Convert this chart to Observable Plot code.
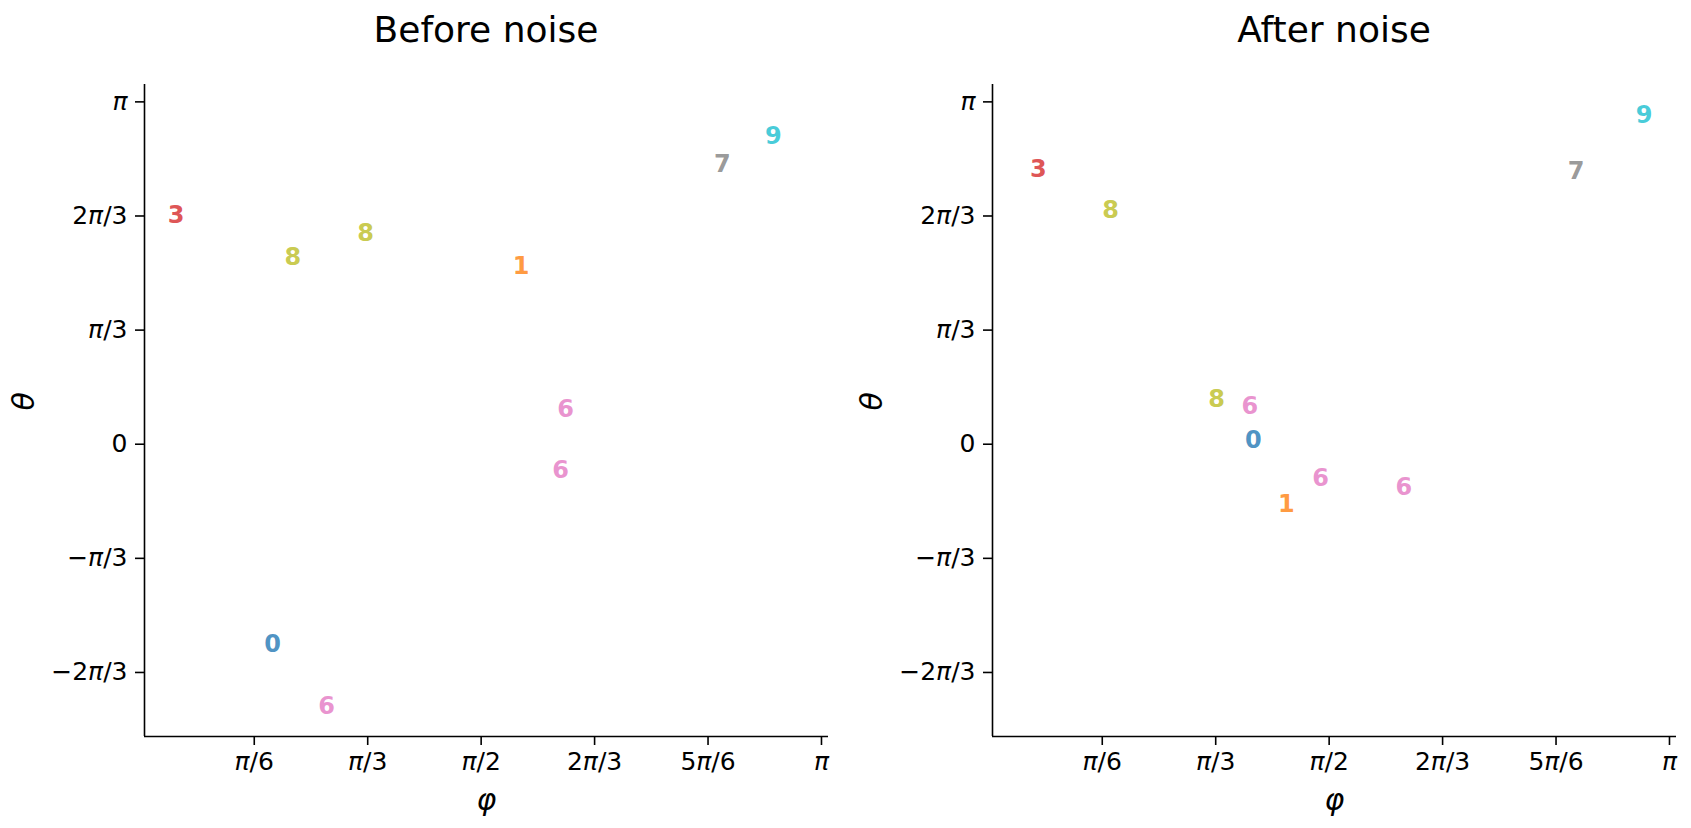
<!DOCTYPE html>
<html>
<head>
<meta charset="utf-8">
<script src="https://cdn.jsdelivr.net/npm/d3@7"></script>
<script src="https://cdn.jsdelivr.net/npm/@observablehq/plot@0.6"></script>
<style>
  html, body { margin: 0; padding: 0; background: #fff; }
  #root { position: relative; width: 1691px; height: 828px; font-family: "DejaVu Sans", sans-serif; }
  .title { position: absolute; top: 0; height: 60px; line-height: 60px; font-size: 36px; color: #000; text-align: center; }
  .panel { position: absolute; top: 60px; }
</style>
</head>
<body>
<div id="root"></div>
<script>
// ---- data (radians) ----
const beforeLabels = [3, 8, 8, 1, 7, 9, 6, 6, 0, 6];
const beforePhi    = [0.163, 0.702, 1.038, 1.755, 2.684, 2.920, 1.961, 1.938, 0.608, 0.857];
const beforeTheta  = [2.105, 1.718, 1.933, 1.635, 2.569, 2.830, 0.316, -0.235, -1.834, -2.407];

const afterLabels = [3, 8, 9, 7, 8, 6, 0, 6, 6, 1];
const afterPhi    = [0.229, 0.562, 3.024, 2.710, 1.051, 1.205, 1.221, 1.531, 1.916, 1.373];
const afterTheta  = [2.521, 2.147, 3.019, 2.508, 0.408, 0.349, 0.040, -0.309, -0.395, -0.548];

const titles = ["Before noise", "After noise"];

const digits = [0, 1, 2, 3, 4, 5, 6, 7, 8, 9];
const digitColors = ["#1f77b4", "#ff7f0e", "#2ca02c", "#d62728", "#9467bd",
                     "#8c564b", "#e377c2", "#7f7f7f", "#bcbd22", "#17becf"];

const xTickValues = [Math.PI / 6, Math.PI / 3, Math.PI / 2, 2 * Math.PI / 3, 5 * Math.PI / 6, Math.PI];
const xTickLabels = ["π/6", "π/3", "π/2", "2π/3", "5π/6", "π"];
const yTickValues = [-2 * Math.PI / 3, -Math.PI / 3, 0, Math.PI / 3, 2 * Math.PI / 3, Math.PI];
const yTickLabels = ["−2π/3", "−π/3", "0", "π/3", "2π/3", "π"];

const xDomain = [0.017, 3.174];
const yDomain = [-2.682, 3.301];

function italicPi(svg) {
  svg.querySelectorAll("g[aria-label$='tick label'] text").forEach(t => {
    const s = t.textContent;
    if (!s.includes("π")) return;
    while (t.firstChild) t.removeChild(t.firstChild);
    const parts = s.split("π");
    parts.forEach((p, i) => {
      if (p) {
        const sp = document.createElementNS("http://www.w3.org/2000/svg", "tspan");
        sp.textContent = p;
        t.appendChild(sp);
      }
      if (i < parts.length - 1) {
        const sp = document.createElementNS("http://www.w3.org/2000/svg", "tspan");
        sp.setAttribute("font-style", "italic");
        sp.textContent = "π";
        t.appendChild(sp);
      }
    });
  });
}

function panel(labels, phi, theta, opts) {
  const data = labels.map((d, i) => ({label: d, phi: phi[i], theta: theta[i]}));
  const svg = Plot.plot({
    width: opts.width,
    height: 768,
    marginLeft: opts.marginLeft,
    marginRight: opts.marginRight,
    marginTop: 24,
    marginBottom: 92,
    style: {fontFamily: "DejaVu Sans, sans-serif", background: "white", color: "#000", overflow: "visible"},
    x: {domain: xDomain},
    y: {domain: yDomain},
    color: {domain: digits, range: digitColors},
    marks: [
      Plot.ruleX([xDomain[0]], {stroke: "#000", strokeWidth: 1.6}),
      Plot.ruleY([yDomain[0]], {stroke: "#000", strokeWidth: 1.6}),
      Plot.axisX({ticks: xTickValues, tickFormat: (d, i) => xTickLabels[i], tickSize: 9, tickPadding: 7,
                  fontSize: 25, strokeWidth: 1.6, label: null}),
      Plot.axisY({ticks: yTickValues, tickFormat: (d, i) => yTickLabels[i], tickSize: 9, tickPadding: 8,
                  fontSize: 25, strokeWidth: 1.6, label: null}),
      Plot.text(data, {x: "phi", y: "theta", text: d => String(d.label), fill: "label",
                       fillOpacity: 0.8, fontWeight: "bold", fontSize: 24, lineAnchor: "middle"}),
      Plot.text(["φ"], {frameAnchor: "bottom", dy: 64, fontSize: 30, fontStyle: "italic", lineAnchor: "middle"}),
      Plot.text(["θ"], {frameAnchor: "left", dx: -120, rotate: -90, fontSize: 30, fontStyle: "italic", lineAnchor: "middle"})
    ]
  });
  italicPi(svg);
  return svg;
}

const root = document.getElementById("root");
const panels = [
  {labels: beforeLabels, phi: beforePhi, theta: beforeTheta, left: 0, width: 846, marginLeft: 144, marginRight: 18},
  {labels: afterLabels, phi: afterPhi, theta: afterTheta, left: 846, width: 845, marginLeft: 146, marginRight: 15}
];
panels.forEach((p, i) => {
  const t = document.createElement("div");
  t.className = "title";
  t.textContent = titles[i];
  const cx = p.left + p.marginLeft + (p.width - p.marginLeft - p.marginRight) / 2;
  t.style.left = (cx - 300) + "px";
  t.style.width = "600px";
  root.appendChild(t);
  const holder = document.createElement("div");
  holder.className = "panel";
  holder.style.left = p.left + "px";
  holder.appendChild(panel(p.labels, p.phi, p.theta, p));
  root.appendChild(holder);
});
</script>
</body>
</html>
